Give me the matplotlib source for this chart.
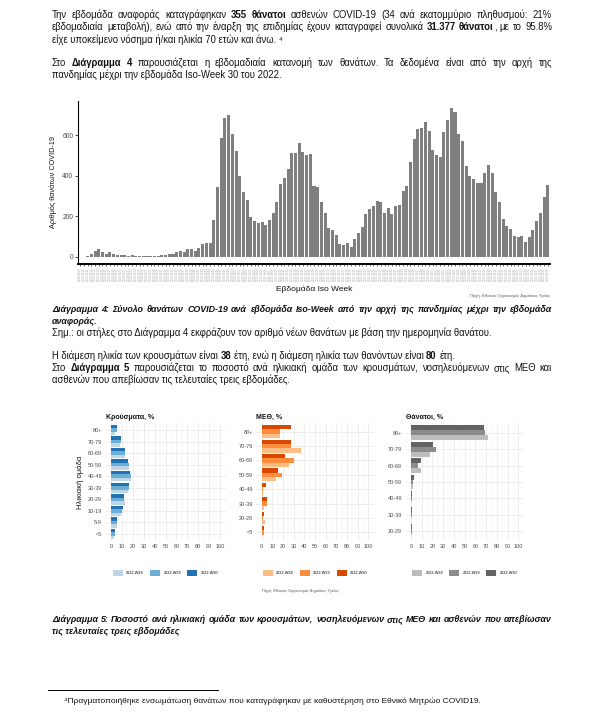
import numpy as np
import matplotlib
matplotlib.use('Agg')
import matplotlib.pyplot as plt
from matplotlib.lines import Line2D

plt.rcParams['font.family'] = ['Liberation Sans', 'DejaVu Sans']

# ---------------- data ----------------
# weekly COVID-19 deaths, 2020-W09 .. 2022-W30
deaths = [0, 0,
          2, 15, 25, 35, 20, 12, 20, 12, 8, 10,
          6, 5, 8, 3, 5, 2, 3, 2, 3, 5,
          6, 6, 15, 12, 20, 25, 22, 35, 35, 28,
          40, 60, 65, 65, 180, 345, 585, 685, 700, 605,
          525, 400, 320, 280, 195, 178, 168, 172, 155, 180,
          215, 270, 360, 390, 435, 515, 515, 560, 520, 505,
          510, 350, 345, 270, 215, 140, 130, 105, 60, 55,
          65, 45, 85, 115, 145, 210, 235, 250, 275, 270,
          215, 240, 210, 250, 255, 325, 350, 470, 580, 630,
          635, 665, 620, 530, 505, 495, 615, 675, 735, 715,
          605, 570, 450, 400, 385, 365, 365, 415, 455, 415,
          320, 270, 185, 150, 135, 100, 95, 100, 70, 95,
          130, 175, 215, 295, 355]
weeks = ([f'2020-W{w:02d}' for w in range(9, 54)] +
         [f'2021-W{w:02d}' for w in range(1, 53)] +
         [f'2022-W{w:02d}' for w in range(1, 31)])

legend_weeks = ['2022-W28', '2022-W29', '2022-W30']

ages_cases = ['80+', '70-79', '60-69', '50-59', '40-49', '30-39', '20-29', '10-19', '5-9', '<5']
cases_w28 = [3.7, 8.3, 12.8, 16.5, 18.3, 15.9, 12.5, 9.5, 5.2, 3.0]
cases_w29 = [5.5, 8.9, 12.8, 16.5, 18.3, 16.8, 12.2, 10.0, 5.5, 3.7]
cases_w30 = [5.5, 9.2, 12.8, 15.9, 17.4, 16.2, 11.6, 11.0, 5.5, 3.7]

ages_icu = ['80+', '70-79', '60-69', '50-59', '40-49', '30-39', '20-29', '<5']
icu_w28 = [16.9, 36.6, 25.3, 13.1, 1.6, 2.5, 2.8, 0.0]
icu_w29 = [16.9, 27.2, 30.0, 19.1, 1.6, 4.7, 1.0, 2.2]
icu_w30 = [27.2, 27.5, 21.6, 15.3, 3.8, 4.7, 2.2, 2.2]

ages_deaths = ['80+', '70-79', '60-69', '50-59', '40-49', '30-39', '20-29']
deaths_w28 = [71.4, 17.7, 9.0, 1.5, 0.3, 0.3, 0.3]
deaths_w29 = [69.0, 23.0, 6.8, 1.9, 0.6, 0.5, 0.5]
deaths_w30 = [67.7, 20.2, 9.0, 2.5, 0.6, 0.5, 0.5]

W, H = 603, 717
TXT = '#111111'


def fx(px):
    return px / W


def fy(py):
    return 1 - py / H


fig = plt.figure(figsize=(W / 100, H / 100), dpi=100)
fig.patch.set_facecolor('white')
renderer = fig.canvas.get_renderer()


# ---------------- page text ----------------
def parse(markup):
    words = [[]]
    for k, seg in enumerate(markup.split('**')):
        bold = k % 2 == 1
        for j, part in enumerate(seg.split(' ')):
            if j > 0:
                words.append([])
            if part:
                words[-1].append((part, bold))
    return [w for w in words if w]


def width_of(s, size, bold=False, italic=False):
    t = fig.text(0, 0, s, fontsize=size, fontweight='bold' if bold else 'normal',
                 fontstyle='italic' if italic else 'normal')
    w = t.get_window_extent(renderer).width
    t.remove()
    return w


def put(x, y, s, size, bold, italic):
    t = fig.text(fx(x), fy(y + 3), s, fontsize=size, color=TXT,
                 fontweight='bold' if bold else 'normal',
                 fontstyle='italic' if italic else 'normal',
                 va='baseline', ha='left')
    return t.get_window_extent(renderer).width


def text_line(y, markup, size, x0=52, x1=552, justify=False, bold=False, italic=False):
    words = parse(markup)
    space = width_of('a a', size, bold, italic) - width_of('aa', size, bold, italic)
    if justify:
        total = sum(width_of(p, size, b or bold, italic) for w in words for p, b in w)
        gap = (x1 - x0 - total) / (len(words) - 1)
        x = x0
        for w in words:
            for p, b in w:
                x += put(x, y, p, size, b or bold, italic)
            x += gap
        return
    # left aligned: merge words of the same style into runs
    runs = []
    for wi, w in enumerate(words):
        for pi, (p, b) in enumerate(w):
            sep = pi == 0 and wi > 0
            if runs and runs[-1][1] == b:
                runs[-1][0] += (' ' if sep else '') + p
            else:
                runs.append([p, b, sep])
    x = x0
    for s, b, sep in runs:
        if sep:
            x += space
        x += put(x, y, s, size, b or bold, italic)


note = 'Σημ.: οι στήλες στο Διάγραμμα 4 εκφράζουν τον αριθμό νέων θανάτων με βάση την ημερομηνία θανάτου.'
FS = 7 * 442 / width_of(note, 7)
cap4 = 'Διάγραμμα 4: Σύνολο θανάτων COVID-19 ανά εβδομάδα Iso-Week από την αρχή της πανδημίας μέχρι την εβδομάδα'
FS_CAP = min(FS, 7 * 490 / width_of(cap4, 7, True, True))
foot = '⁴Πραγματοποιήθηκε ενσωμάτωση θανάτων που καταγράφηκαν με καθυστέρηση στο Εθνικό Μητρώο COVID19.'
FS_FOOT = 7 * 417 / width_of(foot, 7)

text_line(15, 'Την εβδομάδα αναφοράς καταγράφηκαν **355 θάνατοι** ασθενών COVID-19 (34 ανά εκατομμύριο πληθυσμού: 21%', FS, justify=True)
text_line(27, 'εβδομαδιαία μεταβολή), ενώ από την έναρξη της επιδημίας έχουν καταγραφεί συνολικά **31.377 θάνατοι**, με το 95.8%', FS, justify=True)
text_line(40, 'είχε υποκείμενο νόσημα ή/και ηλικία 70 ετών και άνω. ⁴', FS)
text_line(63, 'Στο **Διάγραμμα 4** παρουσιάζεται η εβδομαδιαία κατανομή των θανάτων. Τα δεδομένα είναι από την αρχή της', FS, justify=True)
text_line(75, 'πανδημίας μέχρι την εβδομάδα Iso-Week 30 του 2022.', FS)

text_line(309, cap4, FS_CAP, justify=True, bold=True, italic=True)
text_line(321, 'αναφοράς.', FS_CAP, bold=True, italic=True)
text_line(333, note, FS)
text_line(356, 'Η διάμεση ηλικία των κρουσμάτων είναι **38** έτη, ενώ η διάμεση ηλικία των θανόντων είναι **80** έτη.', FS)
text_line(368, 'Στο **Διάγραμμα 5** παρουσιάζεται το ποσοστό ανά ηλικιακή ομάδα των κρουσμάτων, νοσηλευόμενων στις ΜΕΘ και', FS, justify=True)
text_line(380, 'ασθενών που απεβίωσαν τις τελευταίες τρεις εβδομάδες.', FS)

text_line(619, 'Διάγραμμα 5: Ποσοστό ανά ηλικιακή ομάδα των κρουσμάτων, νοσηλευόμενων στις ΜΕΘ και ασθενών που απεβίωσαν', FS_CAP, justify=True, bold=True, italic=True)
text_line(631, 'τις τελευταίες τρεις εβδομάδες', FS_CAP, bold=True, italic=True)

fig.add_artist(Line2D([fx(48), fx(218)], [fy(690), fy(690)], color='black', lw=0.7))
text_line(700, foot, FS_FOOT, x0=64)

# ---------------- Διάγραμμα 4 ----------------
ax = fig.add_axes([fx(78), fy(264), fx(550 - 78), (264 - 100.7) / H])
x = np.arange(len(deaths))
ax.bar(x, deaths, width=0.82, color='#7f7f7f')
ax.set_xlim(-0.6, len(deaths) - 0.4)
ax.set_ylim(-37, 772)
ax.set_yticks([0, 200, 400, 600])
ax.tick_params(axis='y', labelsize=4.8, labelcolor='#4d4d4d', length=2, width=0.5, pad=1.5)
ax.set_xticks(x)
ax.set_xticklabels(weeks[:len(deaths)], rotation=90, fontsize=2.2, color='#aaaaaa')
ax.tick_params(axis='x', length=1.5, width=0.4, pad=1)
for s in ['top', 'right']:
    ax.spines[s].set_visible(False)
ax.spines['left'].set_linewidth(0.8)
ax.spines['bottom'].set_linewidth(1.4)
ax.set_ylabel('Αριθμός θανάτων COVID-19', fontsize=5.2, color=TXT)
ax.yaxis.set_label_coords(-0.045, 0.5)
ax.set_xlabel('Εβδομάδα Iso Week', fontsize=6, color=TXT)
ax.xaxis.set_label_coords(0.5, -0.13)
fig.text(fx(550), fy(296), 'Πηγή: Εθνικός Οργανισμός Δημόσιας Υγείας', ha='right', va='center',
         fontsize=3, color='#555555')

# ---------------- Διάγραμμα 5 ----------------
panels = [
    ('Κρούσματα, %', ages_cases, [cases_w28, cases_w29, cases_w30],
     ['#bdd7e7', '#6baed6', '#2171b5'], 105.5, 225.5),
    ('ΜΕΘ, %', ages_icu, [icu_w28, icu_w29, icu_w30],
     ['#fdbe85', '#fd8d3c', '#d94801'], 256.4, 373.6),
    ('Θάνατοι, %', ages_deaths, [deaths_w28, deaths_w29, deaths_w30],
     ['#bdbdbd', '#8c8c8c', '#636363'], 405.6, 523.7),
]
top, bottom = 423, 541
for k, (title, ages, series, colors, left, right) in enumerate(panels):
    pax = fig.add_axes([fx(left), fy(bottom), fx(right - left), (bottom - top) / H])
    n = len(ages)
    yy = np.arange(n)[::-1]
    for j, (vals, c, lab) in enumerate(zip(series, colors, legend_weeks)):
        pax.barh(yy + (j - 1) * 0.3, vals, height=0.3, color=c, label=lab)
    pax.set_xlim(-5, 105)
    pax.set_ylim(-0.6, n - 0.4)
    pax.set_xticks(range(0, 101, 10))
    pax.set_xticks(range(5, 100, 10), minor=True)
    pax.set_yticks(yy)
    pax.set_yticklabels(ages)
    pax.grid(True, which='major', color='#e6e6e6', lw=0.5)
    pax.grid(True, which='minor', axis='x', color='#f0f0f0', lw=0.35)
    pax.set_axisbelow(True)
    for s in pax.spines.values():
        s.set_visible(False)
    pax.tick_params(which='both', length=0, labelsize=4, labelcolor='#4d4d4d', pad=2.5)
    pax.set_title(title, loc='left', fontsize=5, fontweight='bold', color=TXT, pad=3)
    if k == 0:
        pax.set_ylabel('Ηλικιακή ομάδα', fontsize=5.5, color=TXT)
        pax.yaxis.set_label_coords(-0.18, 0.5)
    pax.legend(loc='center', bbox_to_anchor=(0.5, -0.27), ncol=3, fontsize=2.8, frameon=False,
               handlelength=2.6, handleheight=2.0, columnspacing=1.6, handletextpad=0.8)

fig.text(fx(300), fy(591), 'Πηγή: Εθνικός Οργανισμός Δημόσιας Υγείας', ha='center', va='center',
         fontsize=2.8, color='#555555')

fig.savefig('out.png', dpi=100, facecolor='white')
